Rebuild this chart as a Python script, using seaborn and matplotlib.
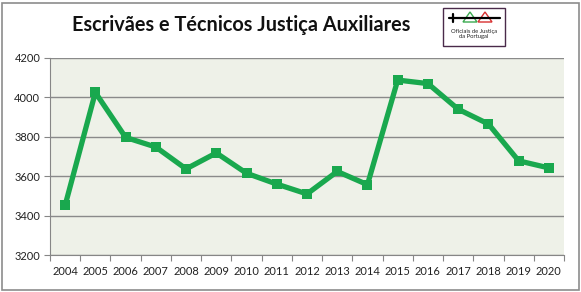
import matplotlib
matplotlib.use("Agg")
import matplotlib.pyplot as plt
import seaborn as sns
import pandas as pd
from matplotlib.patches import Rectangle, Polygon

years = ["2004", "2005", "2006", "2007", "2008", "2009", "2010", "2011", "2012",
         "2013", "2014", "2015", "2016", "2017", "2018", "2019", "2020"]
values = [3452, 4025, 3797, 3748, 3637, 3718, 3615, 3560, 3510,
          3624, 3557, 4088, 4070, 3940, 3865, 3678, 3642]
y_ticks = [3200, 3400, 3600, 3800, 4000, 4200]
title = "Escrivães e Técnicos Justiça Auxiliares"

sns.set_theme(style="white")
plt.rcParams["font.family"] = ["Lato", "DejaVu Sans"]

df = pd.DataFrame({"pos": range(len(years)), "value": values})

fig = plt.figure(figsize=(5.81, 2.92), dpi=100)
ax = fig.add_axes([50/581, 37/292, 514/581, 197/292])
ax.set_facecolor("#EEF1E8")

sns.lineplot(data=df, x="pos", y="value", ax=ax, color="#19A84E", linewidth=3.8,
             marker="s", markersize=7, markeredgewidth=0, zorder=3)

ax.set_xlim(-0.5, len(years) - 0.5)
ax.set_ylim(y_ticks[0], y_ticks[-1])
ax.set_yticks(y_ticks)
ax.set_yticklabels([str(t) for t in y_ticks], fontsize=8, color="#222222")
ax.set_xticks([i - 0.5 for i in range(len(years) + 1)])
ax.set_xticklabels([])
ax.set_xticks(range(len(years)), minor=True)
ax.set_xticklabels(years, minor=True, fontsize=8, color="#222222")
ax.tick_params(axis="x", which="major", direction="out", length=4, color="#868686", width=0.8, bottom=True)
ax.tick_params(axis="x", which="minor", length=0, pad=8, bottom=True)
ax.tick_params(axis="y", direction="out", length=4, color="#868686", width=0.8, left=True, pad=3)
ax.grid(axis="y", color="#8A8A8A", linewidth=1.0)
ax.grid(axis="x", visible=False)
ax.set_xlabel("")
ax.set_ylabel("")
for s in ["top", "right"]:
    ax.spines[s].set_visible(False)
for s in ["left", "bottom"]:
    ax.spines[s].set_color("#868686")
    ax.spines[s].set_linewidth(0.8)

# outer border
fig.patches.append(Rectangle((1.5/581, 2/292), 577/581, 287/292, transform=fig.transFigure,
                             fill=False, edgecolor="#8C8C8C", linewidth=1.2))

fig.text(241/581, 1 - 25/292, title, ha="center", va="center", fontsize=14.3,
         fontweight="bold", color="#111111")

# logo
lx0, ly0, lw, lh = 443, 8, 62, 38
fig.patches.append(Rectangle((lx0/581, 1 - (ly0 + lh)/292), lw/581, lh/292, transform=fig.transFigure,
                             facecolor="white", edgecolor="#4A2A4A", linewidth=1.0))
def fp(x, y):
    return (x/581, 1 - y/292)
fig.patches.append(Polygon([fp(463, 22), fp(470, 12), fp(477, 22)], closed=True, transform=fig.transFigure,
                           fill=False, edgecolor="#3BAA50", linewidth=1.0))
fig.patches.append(Polygon([fp(478, 22), fp(485, 12), fp(492, 22)], closed=True, transform=fig.transFigure,
                           fill=False, edgecolor="#D83030", linewidth=1.0))
fig.lines.append(plt.Line2D([449/581, 500/581], [1 - 18/292, 1 - 18/292], transform=fig.transFigure,
                            color="black", linewidth=1.6))
fig.lines.append(plt.Line2D([453/581, 453/581], [1 - 14/292, 1 - 22/292], transform=fig.transFigure,
                            color="black", linewidth=1.6))
fig.text(474/581, 1 - 34/292, "Oficiais de Justiça\nda Portugal", ha="center", va="center",
         fontsize=4.2, color="#222222", linespacing=1.0)

fig.savefig("out.png", dpi=100)
